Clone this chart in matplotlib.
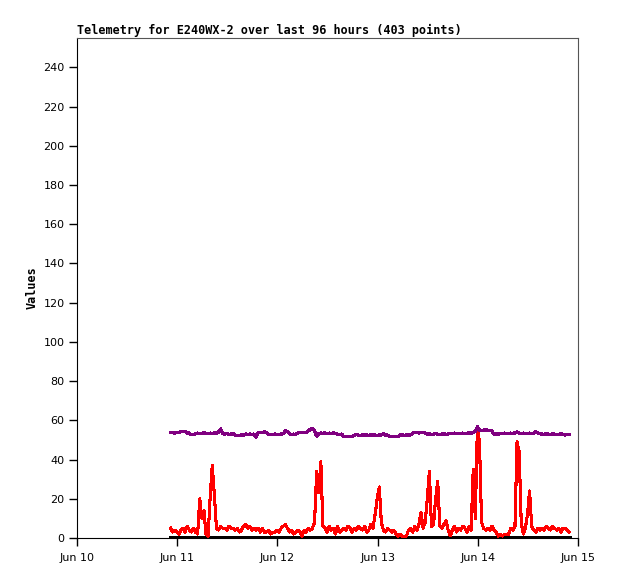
import matplotlib
matplotlib.use("Agg")
import matplotlib.pyplot as plt
import matplotlib.dates as mdates
import pandas as pd

# Telemetry values, one reading every 30 minutes
red_values = [
    5, 3, 4, 3, 2, 4, 5, 3, 6, 4, 3, 5,
    3, 2,
    20, 10, 14, 2, 1, 21, 37, 22, 5,
    4, 6, 5, 5, 4, 6, 5, 5, 4, 5, 3, 4, 6, 7, 5, 6, 4, 5,
    4, 5, 3, 5, 3, 3, 4, 2, 3, 3, 4, 3,
    5, 6, 7, 5,
    3, 4, 2, 3, 4, 3, 1, 4, 3, 5,
    4, 5, 8, 34, 23, 39, 6,
    5, 3, 6, 4, 5, 2, 6, 3, 4, 5, 4, 6, 5, 3, 5, 4, 6, 5, 4, 6, 3, 4, 7, 5,
    12, 20, 26, 8,
    4, 3, 5, 4, 3, 4,
    2, 1, 2, 1, 0.5, 1,
    4, 5, 3, 6, 4, 7,
    13, 5, 8, 20, 34, 6, 7, 20, 29, 6,
    5, 7, 9, 4,
    1,
    4, 6, 3, 5, 4, 6, 5, 3, 6, 4,
    35, 10, 57, 49, 8,
    5, 4, 5, 4, 6, 4, 3, 1, 2, 1,
    2, 2, 2, 5, 4,
    6, 49, 44, 8, 2, 5, 12, 24, 6,
    4, 3, 5, 4, 5, 4, 6, 5, 4, 6, 5, 4, 5, 3, 5, 5, 4, 3,
]

purple_values = [
    53.7, 53.7, 53.5, 53.7, 53.7, 54.5, 54.2, 54.5,
    53.5, 53.5, 52.6, 52.6,
    53.4, 53.5, 53.2, 53.4, 53.6, 53.4, 53.3, 53.5, 53.4, 53.6, 53.4,
    54.0, 55.6,
    53.2, 53.0, 53.4, 52.8, 53.0, 53.2,
    52.5, 52.3, 52.3, 52.6, 52.2,
    53.0, 52.9, 53.0, 52.8, 53.0, 51.3,
    53.8, 54.0, 53.6, 54.2, 53.8, 52.7,
    52.9, 52.9, 53.0, 52.8, 52.9, 53.0, 53.2,
    54.6, 54.4,
    53.0, 52.9, 53.0, 52.8,
    53.5, 54.0, 53.6, 54.0, 53.8, 54.5,
    55.5, 56.0,
    54.5, 52.0,
    53.2, 53.5, 53.4, 53.6, 53.3, 53.5, 53.4, 53.6,
    53.2, 53.0, 52.9, 53.0,
    51.7, 51.8, 51.7, 51.6, 51.8,
    52.3, 52.7, 52.5, 52.4, 52.5, 52.6, 52.5, 52.4, 52.6, 52.5, 52.5, 52.4, 52.5,
    52.6, 53.2, 52.5, 52.5,
    51.8, 51.7, 51.8, 51.6, 51.7,
    52.5, 52.6, 52.4, 52.5, 52.6, 52.5,
    53.6, 53.7, 53.8, 53.6, 53.7, 53.8,
    53.6, 53.0, 53.1, 52.9, 53.0, 53.2, 53.0, 52.8, 53.0, 53.1, 52.9, 53.0,
    53.4, 53.3, 53.5, 53.4, 53.2, 53.4, 53.5, 53.3, 53.4, 53.6, 53.4,
    54.0, 54.3,
    56.8,
    55.0, 54.8, 55.0, 55.2, 54.9, 55.0, 54.5,
    53.0, 53.1, 52.9, 53.2,
    53.4, 53.5, 53.3, 53.4, 53.5, 53.4, 53.6, 54.2, 53.4,
    53.4, 53.5, 53.3, 53.4, 53.5, 53.4,
    53.5, 54.3, 53.4, 53.2,
    53.0, 52.9, 53.1, 53.0, 52.8, 53.1, 53.0,
    52.7, 52.6, 53.2, 52.7, 52.5, 52.8, 52.7,
]

black_values = [0] * len(red_values)

times = pd.date_range("2023-06-10 22:24", periods=len(red_values), freq="30min")
x_start = pd.Timestamp("2023-06-10")
x_end = pd.Timestamp("2023-06-15")
y_ticks = list(range(0, 241, 20))

title = "Telemetry for E240WX-2 over last 96 hours (403 points)"

fig = plt.figure(figsize=(6.18, 5.79), dpi=100)
ax = fig.add_axes([77 / 618, 41 / 579, 501 / 618, 500 / 579])

ax.plot(times, black_values, color="black", linewidth=2.2, antialiased=False, zorder=3)
ax.plot(times, red_values, color="#ff0000", linewidth=1.5, antialiased=False, zorder=4)
ax.plot(times, purple_values, color="#800080", linewidth=1.6, antialiased=False, zorder=5)

ax.set_xlim(x_start, x_end)
ax.set_ylim(0, 255)
ax.set_yticks(y_ticks)
ax.xaxis.set_major_locator(mdates.DayLocator())
ax.xaxis.set_major_formatter(mdates.DateFormatter("%b %d"))

ax.tick_params(axis="both", direction="out", length=6, width=1, labelsize=8,
               pad=3, colors="black")
ax.tick_params(axis="x", pad=5)
for side in ("top", "right"):
    ax.spines[side].set_color("#555555")
for side in ("left", "bottom"):
    ax.spines[side].set_color("black")

ax.set_title(title, loc="left", fontsize=8.5, fontweight="bold",
             family="DejaVu Sans Mono", pad=3)
ax.set_ylabel("Values", fontsize=8.5, fontweight="bold", family="DejaVu Sans Mono",
              labelpad=3)

fig.savefig("out.png", dpi=100)
